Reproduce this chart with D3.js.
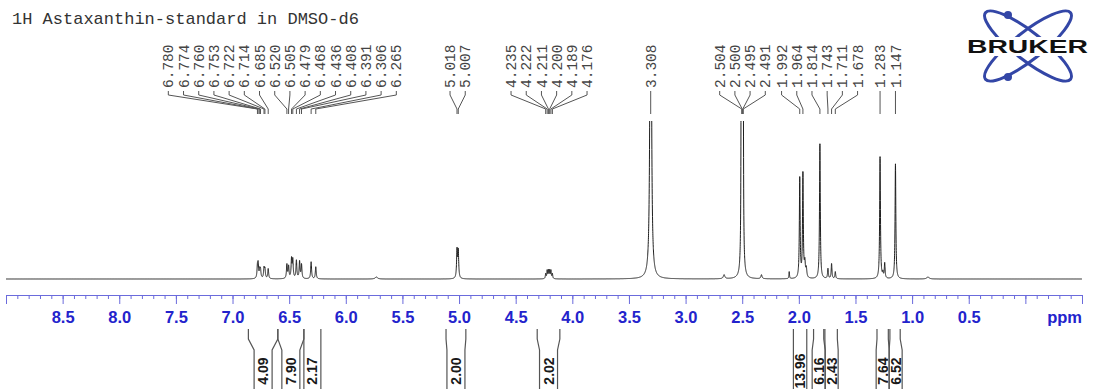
<!DOCTYPE html>
<html>
<head>
<meta charset="utf-8">
<script src="https://cdn.jsdelivr.net/npm/d3@7"></script>
<style>
  html, body { margin: 0; background: #fff; }
  svg { display: block; }
</style>
</head>
<body>
<div id="chart"></div>
<script>
const title = "1H Astaxanthin-standard in DMSO-d6";

// peak list: shift (ppm), height (plot units), half width (ppm)
const peakShift = [6.780, 6.774, 6.760, 6.753, 6.722, 6.714, 6.685, 6.520, 6.505, 6.479, 6.468, 6.436, 6.408, 6.391, 6.306, 6.265,
  5.730, 5.018, 5.007, 4.235, 4.222, 4.211, 4.200, 4.189, 4.176, 3.308, 2.660,
  2.509, 2.504, 2.500, 2.495, 2.491, 2.330, 2.085, 1.992, 1.964, 1.947, 1.934, 1.814,
  1.743, 1.711, 1.678, 1.283, 1.258, 1.242, 1.147, 0.860];
const peakHeight = [11, 13, 8, 8, 10, 9, 10, 14, 12, 19, 18, 18, 17, 14, 17, 12,
  2, 28, 27, 5, 8, 8, 8, 8, 5, 700, 4,
  160, 420, 560, 420, 160, 4, 7, 100, 104, 14, 9, 135,
  10, 15, 7, 122, 5, 15, 115, 2];
const peakHalfWidth = [0.0045, 0.0045, 0.0045, 0.0045, 0.0045, 0.0045, 0.0045, 0.0045, 0.0045, 0.0045, 0.0045, 0.0045, 0.0045, 0.0045, 0.0045, 0.0045,
  0.012, 0.0045, 0.0045, 0.0035, 0.0035, 0.0035, 0.0035, 0.0035, 0.0035, 0.005, 0.008,
  0.0022, 0.0022, 0.0022, 0.0022, 0.0022, 0.006, 0.003, 0.004, 0.004, 0.005, 0.005, 0.004,
  0.004, 0.004, 0.004, 0.004, 0.004, 0.004, 0.004, 0.012];

// peak picking labels
const pickedShifts = [6.780, 6.774, 6.760, 6.753, 6.722, 6.714, 6.685, 6.520, 6.505, 6.479, 6.468, 6.436, 6.408, 6.391, 6.306, 6.265,
  5.018, 5.007, 4.235, 4.222, 4.211, 4.200, 4.189, 4.176, 3.308,
  2.504, 2.500, 2.495, 2.491, 1.992, 1.964, 1.814, 1.743, 1.711, 1.678, 1.283, 1.147];

// integral regions
const integralStart = [6.86, 6.60, 6.37, 5.115, 4.31, 2.048, 1.87, 1.77, 1.31, 1.196];
const integralEnd   = [6.60, 6.37, 6.22, 4.94, 4.11, 1.93, 1.78, 1.66, 1.21, 1.105];
const integralValue = ["4.09", "7.90", "2.17", "2.00", "2.02", "13.96", "6.16", "2.43", "7.64", "6.52"];

const axisLabels = [8.5, 8.0, 7.5, 7.0, 6.5, 6.0, 5.5, 5.0, 4.5, 4.0, 3.5, 3.0, 2.5, 2.0, 1.5, 1.0, 0.5];

const W = 1094, H = 389;
const baseY = 279, axisY = 295;

const svg = d3.select("#chart").append("svg")
  .attr("width", W).attr("height", H)
  .style("background", "#fff");

const x = d3.scaleLinear().domain([9.0, -0.5]).range([6, 1082]);
const y = d3.scaleLinear().domain([0, 158]).range([baseY, 121]);

// title
svg.append("text")
  .attr("x", 12).attr("y", 24)
  .style("font-family", "'Liberation Mono', 'Courier New', monospace")
  .style("font-size", "17px")
  .style("fill", "#333")
  .text(title);

// spectrum = sum of lorentzian lines from the peak list
const samples = d3.range(9.0, -0.5, -0.0005).concat(peakShift).sort((a, b) => b - a);
const spectrum = samples.map(s => ({
  ppm: s,
  v: d3.sum(peakShift, (p, i) => {
    const g = peakHalfWidth[i];
    return peakHeight[i] * g * g / ((s - p) * (s - p) + g * g);
  })
}));

svg.append("clipPath").attr("id", "plotclip")
  .append("rect").attr("x", 6).attr("y", 121).attr("width", 1076).attr("height", 180);

svg.append("path")
  .datum(spectrum)
  .attr("clip-path", "url(#plotclip)")
  .attr("fill", "none")
  .attr("stroke", "#1e1e1e")
  .attr("stroke-width", 1)
  .attr("d", d3.line().x(d => x(d.ppm)).y(d => y(d.v)));

// ppm axis
const minorAxis = svg.append("g")
  .attr("transform", `translate(0,${axisY})`)
  .call(d3.axisBottom(x)
    .tickValues(d3.range(90, -6, -1).map(v => v / 10))
    .tickSize(4).tickSizeOuter(0).tickFormat(() => ""));
minorAxis.selectAll("line").style("stroke", "#6b6bdc");
minorAxis.select(".domain").style("stroke", "#6b6bdc");

const majorAxis = svg.append("g")
  .attr("transform", `translate(0,${axisY})`)
  .call(d3.axisBottom(x)
    .tickValues(d3.range(18, -2, -1).map(v => v / 2))
    .tickSize(9).tickSizeOuter(0).tickPadding(7)
    .tickFormat(d => axisLabels.includes(d) ? d.toFixed(1) : ""));
majorAxis.select(".domain").remove();
majorAxis.selectAll("line").style("stroke", "#6b6bdc");
majorAxis.selectAll("text")
  .style("fill", "#2323cc")
  .style("font-family", "'Liberation Sans', Arial, sans-serif")
  .style("font-weight", "bold")
  .style("font-size", "16.5px");

svg.append("text")
  .attr("x", x(-0.5)).attr("y", 322.5)
  .attr("text-anchor", "end")
  .style("fill", "#2323cc")
  .style("font-family", "'Liberation Sans', Arial, sans-serif")
  .style("font-weight", "bold")
  .style("font-size", "16.5px")
  .text("ppm");

// spread labels that would overlap into evenly spaced groups
function spread(desired, gap) {
  let clusters = desired.map((d, i) => ({ idx: [i], sum: d }));
  const span = c => {
    const n = c.idx.length, mid = c.sum / n;
    return [mid - (n - 1) / 2 * gap, mid + (n - 1) / 2 * gap];
  };
  let merged = true;
  while (merged) {
    merged = false;
    for (let k = 0; k < clusters.length - 1; k++) {
      const a = span(clusters[k]), b = span(clusters[k + 1]);
      if (a[1] + gap > b[0]) {
        clusters[k] = { idx: clusters[k].idx.concat(clusters[k + 1].idx), sum: clusters[k].sum + clusters[k + 1].sum };
        clusters.splice(k + 1, 1);
        merged = true;
        break;
      }
    }
  }
  const out = [];
  clusters.forEach(c => {
    const lo = span(c)[0];
    c.idx.forEach((i, j) => out[i] = lo + j * gap);
  });
  return out;
}

// peak labels on top
const labelX = spread(pickedShifts.map(p => x(p)), 15.2);
const peakLabels = svg.append("g");
pickedShifts.forEach((p, i) => {
  const lx = labelX[i], px = x(p);
  peakLabels.append("path")
    .attr("d", `M${lx},91V95L${px},109V114`)
    .attr("fill", "none")
    .attr("stroke", "#555")
    .attr("stroke-width", 1);
  peakLabels.append("text")
    .attr("transform", `translate(${lx},88) rotate(-90)`)
    .attr("dy", "0.35em")
    .style("font-family", "'Liberation Mono', 'Courier New', monospace")
    .style("font-size", "14.5px")
    .style("fill", "#444")
    .text(p.toFixed(3));
});

// integrals below the axis
const integrals = svg.append("g");
let prevRight = -Infinity;
integralStart.forEach((s, i) => {
  const xa = x(s), xb = x(integralEnd[i]);
  const w = Math.max(13, Math.min(18, xb - xa));
  let left = (xa + xb) / 2 - w / 2;
  if (left < prevRight) left = prevRight;
  const right = left + w;
  prevRight = right;
  integrals.append("path")
    .attr("d", `M${xa},329V339L${left},350V389M${xb},329V339L${right},350V389`)
    .attr("fill", "none")
    .attr("stroke", "#555")
    .attr("stroke-width", 1.2);
  integrals.append("text")
    .attr("transform", `translate(${(left + right) / 2},371) rotate(-90)`)
    .attr("text-anchor", "middle")
    .attr("dy", "0.36em")
    .style("font-family", "'Liberation Sans', Arial, sans-serif")
    .style("font-weight", "bold")
    .style("font-size", "14px")
    .style("fill", "#1a1a1a")
    .text(integralValue[i]);
});

// logo
const logo = svg.append("g").attr("transform", "translate(1028,46)");
[38, -38].forEach(a => {
  logo.append("ellipse")
    .attr("rx", 54).attr("ry", 14)
    .attr("transform", `rotate(${a})`)
    .attr("fill", "none")
    .attr("stroke", "#3346a6")
    .attr("stroke-width", 3);
});
[[-20, -31], [-20, 31]].forEach(d => {
  logo.append("circle").attr("cx", d[0]).attr("cy", d[1]).attr("r", 4).attr("fill", "#3346a6");
});
logo.append("rect").attr("x", -63).attr("y", -9).attr("width", 126).attr("height", 19).attr("fill", "#fff");
logo.append("text")
  .attr("x", -61).attr("y", 7)
  .attr("textLength", 121)
  .attr("lengthAdjust", "spacingAndGlyphs")
  .style("font-family", "'Liberation Sans', Arial, sans-serif")
  .style("font-weight", "bold")
  .style("font-size", "18px")
  .style("fill", "#111")
  .text("BRUKER");
</script>
</body>
</html>
